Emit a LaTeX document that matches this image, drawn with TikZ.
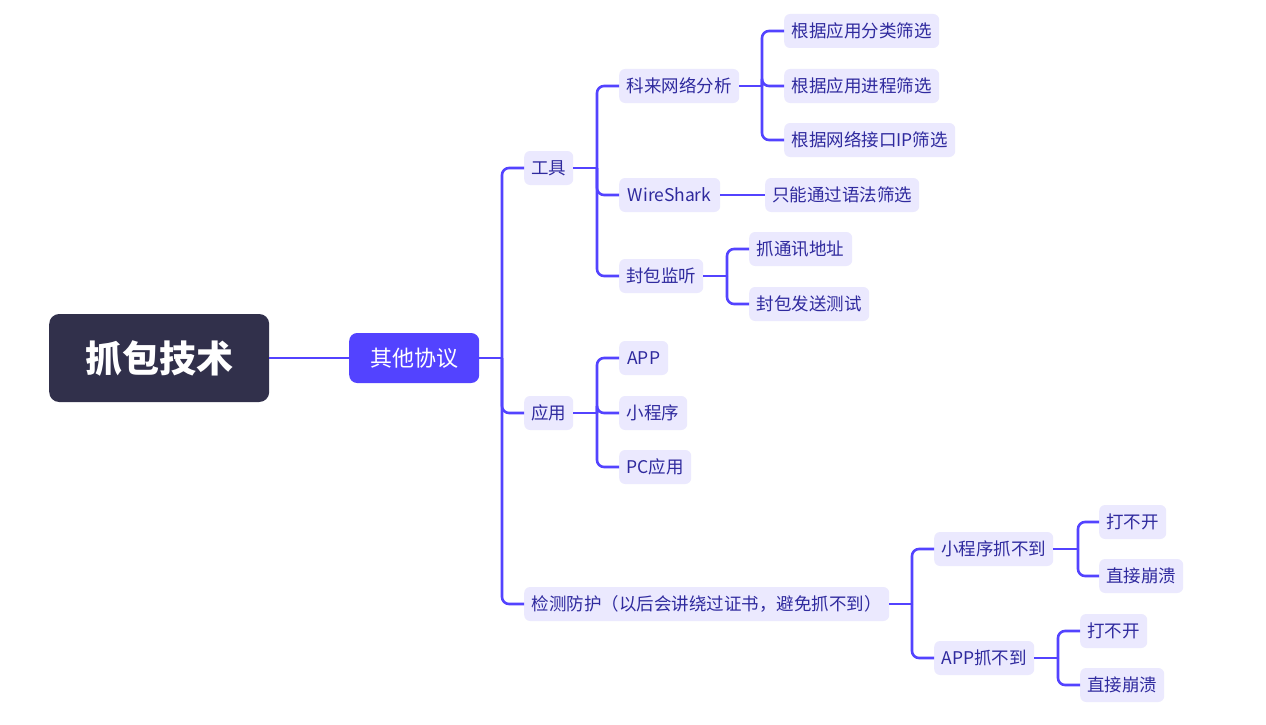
\documentclass[tikz,border=0pt]{standalone}
\usepackage{fontspec}
\setmainfont{Noto Sans CJK SC}
\definecolor{rootfill}{HTML}{31304B}
\definecolor{mainblue}{HTML}{5343FF}
\definecolor{lightfill}{HTML}{EBE9FE}
\definecolor{txt}{HTML}{2F2A9E}
\begin{document}
\begin{tikzpicture}[x=1pt,y=-1pt,
  rootbox/.style={fill=rootfill,text=white,rounded corners=10pt,minimum width=220pt,minimum height=88pt,font=\fontsize{37}{40}\selectfont\bfseries,anchor=west,inner sep=0pt},
  midbox/.style={fill=mainblue,text=white,rounded corners=8pt,minimum width=130pt,minimum height=50pt,font=\fontsize{22}{24}\selectfont,anchor=west,inner sep=0pt},
  leaf/.style={fill=lightfill,text=txt,rounded corners=6pt,minimum width=#1,minimum height=34pt,font=\fontsize{17.5}{19}\selectfont,anchor=west,inner xsep=3pt,inner ysep=0pt},
  conn/.style={draw=mainblue,line width=2.6pt,rounded corners=7pt},
  hconn/.style={draw=mainblue,line width=2.6pt}]
\useasboundingbox (0,0) rectangle (1266,725);
\fill[white] (0,0) rectangle (1266,725);

\node[rootbox] (root) at (49,358) {抓包技术};
\node[midbox] (mid) at (349,358) {其他协议};

\node[leaf=49pt] (tools) at (524,168) {工具};
\node[leaf=49pt] (apps) at (524,413) {应用};
\node[leaf=365pt] (detect) at (524,604) {检测防护（以后会讲绕过证书，避免抓不到）};

\node[leaf=120pt] (kelai) at (619,86) {科来网络分析};
\node[leaf=101pt] (ws) at (619,195) {WireShark};
\node[leaf=84pt] (fbjt) at (619,276) {封包监听};

\node[leaf=155pt] (k1) at (784,31) {根据应用分类筛选};
\node[leaf=155pt] (k2) at (784,86) {根据应用进程筛选};
\node[leaf=171pt] (k3) at (784,140) {根据网络接口IP筛选};
\node[leaf=154pt] (w1) at (765,195) {只能通过语法筛选};
\node[leaf=103pt] (f1) at (749,249) {抓通讯地址};
\node[leaf=120pt] (f2) at (749,304) {封包发送测试};

\node[leaf=49pt] (a1) at (619,358) {APP};
\node[leaf=68pt] (a2) at (619,413) {小程序};
\node[leaf=72pt] (a3) at (619,467) {PC应用};

\node[leaf=119pt] (d1) at (934,549) {小程序抓不到};
\node[leaf=67pt] (d11) at (1099,522) {打不开};
\node[leaf=84pt] (d12) at (1099,576) {直接崩溃};
\node[leaf=100pt] (d2) at (934,658) {APP抓不到};
\node[leaf=67pt] (d21) at (1080,631) {打不开};
\node[leaf=84pt] (d22) at (1080,685) {直接崩溃};

% trunk coordinates
\coordinate (t0) at (502,0);
\coordinate (t1) at (597,0);
\coordinate (t2) at (762,0);
\coordinate (t3) at (727,0);
\coordinate (t4) at (597,0);
\coordinate (t5) at (912,0);
\coordinate (t6) at (1078,0);
\coordinate (t7) at (1058,0);

\draw[hconn] (root.east) -- (mid.west);

\draw[hconn] (mid.east) -- (mid.east -| t0);
\foreach \c in {tools,apps,detect} \draw[conn] (mid.east -| t0) |- (\c.west);

\draw[hconn] (tools.east) -- (tools.east -| t1);
\foreach \c in {kelai,ws,fbjt} \draw[conn] (tools.east -| t1) |- (\c.west);

\draw[hconn] (kelai.east) -- (kelai.east -| t2);
\foreach \c in {k1,k2,k3} \draw[conn] (kelai.east -| t2) |- (\c.west);

\draw[hconn] (ws.east) -- (w1.west);

\draw[hconn] (fbjt.east) -- (fbjt.east -| t3);
\foreach \c in {f1,f2} \draw[conn] (fbjt.east -| t3) |- (\c.west);

\draw[hconn] (apps.east) -- (apps.east -| t4);
\foreach \c in {a1,a2,a3} \draw[conn] (apps.east -| t4) |- (\c.west);

\draw[hconn] (detect.east) -- (detect.east -| t5);
\foreach \c in {d1,d2} \draw[conn] (detect.east -| t5) |- (\c.west);

\draw[hconn] (d1.east) -- (d1.east -| t6);
\foreach \c in {d11,d12} \draw[conn] (d1.east -| t6) |- (\c.west);

\draw[hconn] (d2.east) -- (d2.east -| t7);
\foreach \c in {d21,d22} \draw[conn] (d2.east -| t7) |- (\c.west);
\end{tikzpicture}
\end{document}
